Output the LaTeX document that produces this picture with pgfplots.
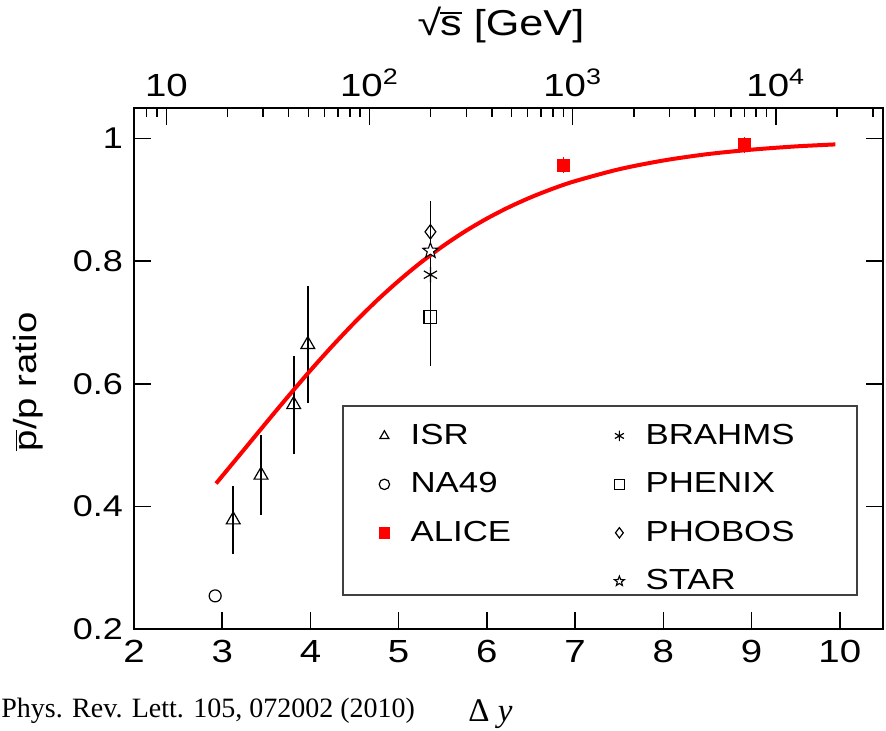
\documentclass[border=0pt]{standalone}
\usepackage{fontspec}
\setmainfont{Liberation Sans}[FakeStretch=1.2]
\newfontfamily\seriffont{Liberation Serif}
\usepackage{pgfplots}
\pgfplotsset{compat=1.18}
\pgfdeclareplotmark{ostar}{%
  \pgfpathmoveto{\pgfpointpolar{90}{\pgfplotmarksize}}%
  \pgfpathlineto{\pgfpointpolar{126}{0.42\pgfplotmarksize}}%
  \pgfpathlineto{\pgfpointpolar{162}{\pgfplotmarksize}}%
  \pgfpathlineto{\pgfpointpolar{198}{0.42\pgfplotmarksize}}%
  \pgfpathlineto{\pgfpointpolar{234}{\pgfplotmarksize}}%
  \pgfpathlineto{\pgfpointpolar{270}{0.42\pgfplotmarksize}}%
  \pgfpathlineto{\pgfpointpolar{306}{\pgfplotmarksize}}%
  \pgfpathlineto{\pgfpointpolar{342}{0.42\pgfplotmarksize}}%
  \pgfpathlineto{\pgfpointpolar{18}{\pgfplotmarksize}}%
  \pgfpathlineto{\pgfpointpolar{54}{0.42\pgfplotmarksize}}%
  \pgfpathclose
  \pgfusepathqfillstroke}
\begin{document}
\begin{tikzpicture}
\begin{axis}[
  scale only axis, width=374.5pt, height=260.5pt,
  xmin=2, xmax=10.49, ymin=0.2, ymax=1.05,
  xtick={2,3,4,5,6,7,8,9,10}, ytick={0.2,0.4,0.6,0.8,1},
  xtick pos=left, ytick pos=both,
  tick align=inside, major tick length=8.5pt,
  tick style={line width=0.8pt, black},
  axis line style={line width=0.8pt},
  /pgf/number format/assume math mode=true,
  xticklabel style={font=\fontsize{16}{18}\selectfont, yshift=-2pt},
  yticklabel style={font=\fontsize{15}{18}\selectfont, xshift=-2pt},
  legend columns=2,
  legend cell align=left,
  legend image post style={mark size=2.6pt},
  legend style={draw=none, fill=none, at={(0.303,0.409)}, anchor=north west,
    font=\fontsize{14.5}{17}\selectfont, row sep=8.6pt,
    /tikz/every odd column/.append style={column sep=8.5pt},
    /tikz/every even column/.append style={column sep=49.5pt}},
]
\coordinate (SW) at (rel axis cs:0,0);
\coordinate (NE) at (rel axis cs:1,1);
% ISR
\addplot[black, only marks, mark=triangle, mark size=4pt, mark options={fill=white, line width=0.6pt},
  error bars/.cd, y dir=both, y explicit, error mark=none, error bar style={line width=1pt}]
  coordinates {(3.125,0.378) +- (0,0.055) (3.44,0.451) +- (0,0.065) (3.81,0.566) +- (0,0.08) (3.97,0.664) +- (0,0.095)};
\addlegendentry{ISR}
% BRAHMS
\addplot[black, only marks, mark=asterisk, mark size=3.8pt, mark options={line width=0.6pt},
  error bars/.cd, y dir=both, y explicit, error mark=none, error bar style={line width=0.5pt}]
  coordinates {(5.36,0.778) +- (0,0.05)};
\addlegendentry{BRAHMS}
% NA49
\addplot[black, only marks, mark=o, mark size=3pt, mark options={fill=white, line width=0.6pt}]
  coordinates {(2.92,0.254)};
\addlegendentry{NA49}
% PHENIX
\addplot[black, only marks, mark=square, mark size=3.2pt, mark options={fill=white, line width=0.6pt},
  error bars/.cd, y dir=both, y explicit, error mark=none, error bar style={line width=0.5pt}]
  coordinates {(5.36,0.709) +- (0,0.08)};
\addlegendentry{PHENIX}
% ALICE
\addplot[red, only marks, mark=square*, mark size=3pt,
  error bars/.cd, y dir=both, y explicit, error mark=none, error bar style={line width=0.6pt}]
  coordinates {(6.87,0.957) +- (0,0.013) (8.92,0.990) +- (0,0.013)};
\addlegendentry{ALICE}
% PHOBOS
\addplot[black, only marks, mark=diamond, mark size=3.6pt, mark options={fill=white, line width=0.6pt},
  error bars/.cd, y dir=both, y explicit, error mark=none, error bar style={line width=0.5pt}]
  coordinates {(5.36,0.848) +- (0,0.05)};
\addlegendentry{PHOBOS}
\addlegendimage{empty legend}
\addlegendentry{}
% STAR
\addplot[black, only marks, mark=ostar, mark size=4pt, mark options={fill=white, line width=0.55pt},
  error bars/.cd, y dir=both, y explicit, error mark=none, error bar style={line width=0.5pt}]
  coordinates {(5.36,0.817) +- (0,0.08)};
\addlegendentry{STAR}
% fit
\addplot[red, line width=2pt, smooth, forget plot] coordinates {
 (2.93,0.4374) (3.0,0.4495) (3.25,0.4931) (3.5,0.5368) (3.75,0.5799) (4.0,0.6219)
 (4.25,0.6620) (4.5,0.7000) (4.75,0.7355) (5.0,0.7680) (5.25,0.7978) (5.5,0.8245)
 (5.75,0.8485) (6.0,0.8696) (6.25,0.8882) (6.5,0.9044) (6.75,0.9185) (7.0,0.9307)
 (7.5,0.9501) (8.0,0.9643) (8.5,0.9747) (9.0,0.9820) (9.5,0.9873) (9.95,0.9906)};
\draw[line width=0.7pt, black!75] (rel axis cs:0.279,0.0653) rectangle (rel axis cs:0.9653,0.428);
\end{axis}
\begin{axis}[
  scale only axis, width=374.5pt, height=260.5pt,
  xmin=2, xmax=10.49, ymin=0.2, ymax=1.05,
  axis x line*=top, axis y line=none,
  xtick={2.367,4.669,6.972,9.275},
  xticklabels={10, 10\textsuperscript{2}, 10\textsuperscript{3}, 10\textsuperscript{4}},
  minor xtick={2.143,2.261,3.060,3.465,3.753,3.976,4.158,4.312,4.446,4.564,5.363,5.768,6.056,6.279,6.461,6.615,6.749,6.867,7.666,8.071,8.358,8.581,8.764,8.918,9.051,9.169,9.968,10.374},
  tick align=inside, major tick length=8.5pt, minor tick length=4.5pt,
  tick style={line width=0.8pt, black},
  axis line style={line width=0.8pt},
  xticklabel style={font=\fontsize{16}{18}\selectfont, yshift=2pt},
]
\end{axis}
\node[rotate=90, font=\fontsize{16}{18}\selectfont] at ([shift={(-53pt,123.5pt)}]SW) {$\overline{\hbox{p}}$/p ratio};
\node[inner sep=0pt, font=\fontsize{18}{21}\selectfont] at ([shift={(183.5pt,302pt)}]SW) {√\kern-0.6pt\vbox{\hrule height 0.7pt\kern 1.2pt\hbox{s}} [GeV]};
\node[anchor=base west, inner sep=0pt, font=\seriffont\fontsize{14}{16}\selectfont] at ([shift={(-66.5pt,-44.5pt)}]SW) {Phys. Rev. Lett. 105, 072002 (2010)};
\node[anchor=base west, inner sep=0pt, font=\seriffont\fontsize{16.5}{19}\selectfont] at ([shift={(167pt,-46.5pt)}]SW) {Δ \textit{y}};
\pgfresetboundingbox
\useasboundingbox ([shift={(-67pt,-51pt)}]SW) rectangle ([shift={(1.5pt,54pt)}]NE);
\end{tikzpicture}
\end{document}
